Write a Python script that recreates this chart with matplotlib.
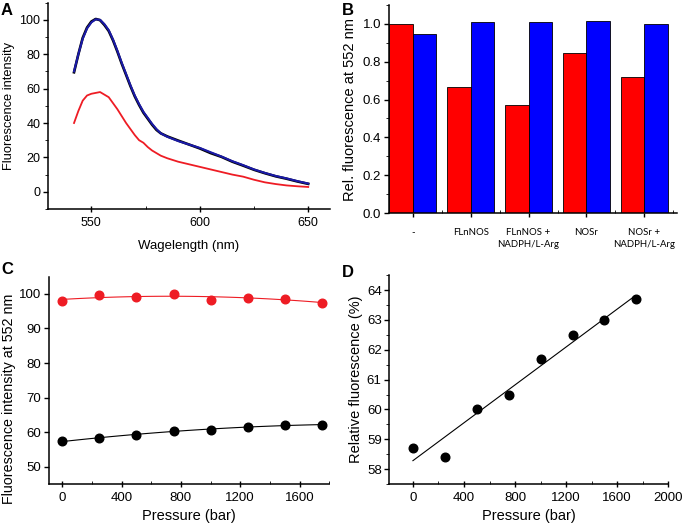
import matplotlib
matplotlib.use("Agg")
import matplotlib.pyplot as plt
import numpy as np
from matplotlib.ticker import MultipleLocator

plt.rcParams['font.family'] = ['Liberation Sans', 'DejaVu Sans']
plt.rcParams['axes.linewidth'] = 1.1

# panel A - emission spectra
wl = [542, 544, 546, 548, 550, 552, 554, 556, 558, 560, 562, 564, 566, 568, 570,
      572, 574, 576, 578, 580, 582, 585, 590, 595, 600, 605, 610, 615, 620, 625,
      630, 635, 640, 645, 650]
spec_blue = [70, 80, 89, 95, 98.5, 100.3, 100, 97.5, 94, 88.5, 82, 75, 68.5, 62, 56,
             51, 46.5, 43, 39.5, 36.5, 34, 32, 29.5, 27.5, 25.5, 23, 20.5, 17.8, 15.5, 13,
             11, 9.2, 7.8, 6.2, 4.8]
spec_black = [69.5, 80, 89.5, 95.5, 99, 100.5, 99.8, 97, 93.5, 88, 81.5, 74.5, 68, 61.5, 55.5,
              50.5, 46, 42.5, 39, 36, 34, 32.2, 29.8, 27.5, 25.2, 22.5, 20.3, 17.5, 15.2, 12.8,
              10.8, 9.0, 7.6, 6.0, 4.6]
spec_red = [40, 47, 53, 56, 57, 57.5, 58, 56.5, 55, 51.5, 48, 44, 40, 36.5, 33,
            30, 28.5, 26, 24, 22.5, 21, 19.5, 17.5, 16, 14.5, 13, 11.5, 10, 8.8, 7,
            5.5, 4.5, 3.7, 3.2, 2.8]

# panel B - bars
categories = ['-', 'FLnNOS', 'FLnNOS +\nNADPH/L-Arg', 'NOSr', 'NOSr +\nNADPH/L-Arg']
rel_red = [1.0, 0.665, 0.57, 0.845, 0.72]
rel_blue = [0.945, 1.01, 1.01, 1.015, 1.0]

# panel C - pressure series
pressure = [0, 250, 500, 750, 1000, 1250, 1500, 1750]
int_red = [98.0, 99.6, 99.0, 100.0, 98.3, 98.8, 98.6, 97.5]
int_black = [57.4, 58.2, 59.3, 60.3, 60.7, 61.6, 62.1, 62.0]

# panel D
rel_fluo = [58.7, 58.4, 60.0, 60.5, 61.7, 62.5, 63.0, 63.7]

RED = '#ee1c24'
BLUE = '#1a1aa8'

fig = plt.figure(figsize=(6.83, 5.26), dpi=100)

# ---- A
axA = fig.add_axes([0.0703, 0.6027, 0.4127, 0.3923])
axA.plot(wl, spec_black, color='black', lw=1.9)
axA.plot(wl, spec_blue, color=BLUE, lw=1.5)
axA.plot(wl, spec_red, color=RED, lw=1.3)
axA.set_xlim(530, 660)
axA.set_ylim(-10, 110)
axA.xaxis.set_major_locator(MultipleLocator(50))
axA.xaxis.set_minor_locator(MultipleLocator(25))
axA.yaxis.set_minor_locator(MultipleLocator(10))
axA.set_yticks([0, 20, 40, 60, 80, 100])
axA.set_xlabel('Wagelength (nm)', fontsize=9.5, labelpad=8)
axA.set_ylabel('Fluorescence intensity', fontsize=9.3, labelpad=3)
axA.tick_params(labelsize=9)

# ---- B
axB = fig.add_axes([0.5695, 0.595, 0.4215, 0.3955])
x = np.arange(len(categories))
w = 0.405
axB.bar(x - w / 2, rel_red, w, color='#ff0000', edgecolor='black', linewidth=0.6)
axB.bar(x + w / 2, rel_blue, w, color='#0000ff', edgecolor='black', linewidth=0.6)
axB.set_xlim(-0.41, 4.56)
axB.set_ylim(0, 1.1)
axB.set_xticks(x)
axB.set_xticklabels(categories, fontfamily='Lato', fontsize=6.9, linespacing=1.35)
axB.xaxis.set_minor_locator(MultipleLocator(1, offset=0.5))
axB.tick_params(axis='x', which='minor', direction='in', length=2.5)
axB.tick_params(axis='x', which='major', length=3, pad=8)
axB.yaxis.set_minor_locator(MultipleLocator(0.1))
axB.set_yticks([0, 0.2, 0.4, 0.6, 0.8, 1.0])
axB.tick_params(axis='y', labelsize=9.5)
axB.set_ylabel('Rel. fluorescence at 552 nm', fontsize=10.5)

# ---- C
axC = fig.add_axes([0.0717, 0.08, 0.4103, 0.394])
xf = np.linspace(0, 1750, 100)
for vals, col in [(int_red, RED), (int_black, 'black')]:
    fit = np.polyfit(pressure, vals, 2)
    axC.plot(xf, np.polyval(fit, xf), color=col, lw=0.8)
    axC.plot(pressure, vals, 'o', color=col, ms=6.2)
axC.set_xlim(-90, 1800)
axC.set_ylim(45, 105)
axC.xaxis.set_minor_locator(MultipleLocator(200))
axC.set_yticks([50, 60, 70, 80, 90, 100])
axC.set_xticks([0, 400, 800, 1200, 1600])
axC.tick_params(labelsize=9.5)
axC.set_xlabel('Pressure (bar)', fontsize=10.5)
axC.set_ylabel('Fluorescence intensity at 552 nm', fontsize=10.3)
axC.yaxis.set_label_coords(-0.118, 0.41)

# ---- D
axD = fig.add_axes([0.570, 0.0798, 0.4085, 0.397])
lin = np.polyfit(pressure, rel_fluo, 1)
xl = np.array([0, 1740])
axD.plot(xl, np.polyval(lin, xl), color='black', lw=0.8)
axD.plot(pressure, rel_fluo, 'o', color='black', ms=6.2)
axD.set_xlim(-185, 2000)
axD.set_ylim(57.5, 64.5)
axD.xaxis.set_major_locator(MultipleLocator(400))
axD.xaxis.set_minor_locator(MultipleLocator(200))
axD.yaxis.set_minor_locator(MultipleLocator(0.5))
axD.set_yticks([58, 59, 60, 61, 62, 63, 64])
axD.tick_params(labelsize=9.5)
axD.set_xlabel('Pressure (bar)', fontsize=10.5)
axD.set_ylabel('Relative fluorescence (%)', fontsize=10.5, labelpad=3)

for ax in [axA, axB, axC, axD]:
    ax.spines['top'].set_visible(False)
    ax.spines['right'].set_visible(False)
    ax.tick_params(width=1)
    ax.tick_params(axis='y', which='major', direction='out', length=3.5, pad=2)
    ax.tick_params(axis='y', which='minor', direction='out', length=2)
for ax in [axA, axC, axD]:
    ax.tick_params(axis='x', which='major', direction='inout', length=4)
    ax.tick_params(axis='x', which='minor', direction='in', length=2)

for lbl, (px, py) in {'A': (1, 3), 'B': (342, 3), 'C': (1, 262), 'D': (342, 265)}.items():
    fig.text(px / 683, 1 - py / 526, lbl, fontsize=12, fontweight='bold', va='top', ha='left')

fig.savefig('out.png', dpi=100)
